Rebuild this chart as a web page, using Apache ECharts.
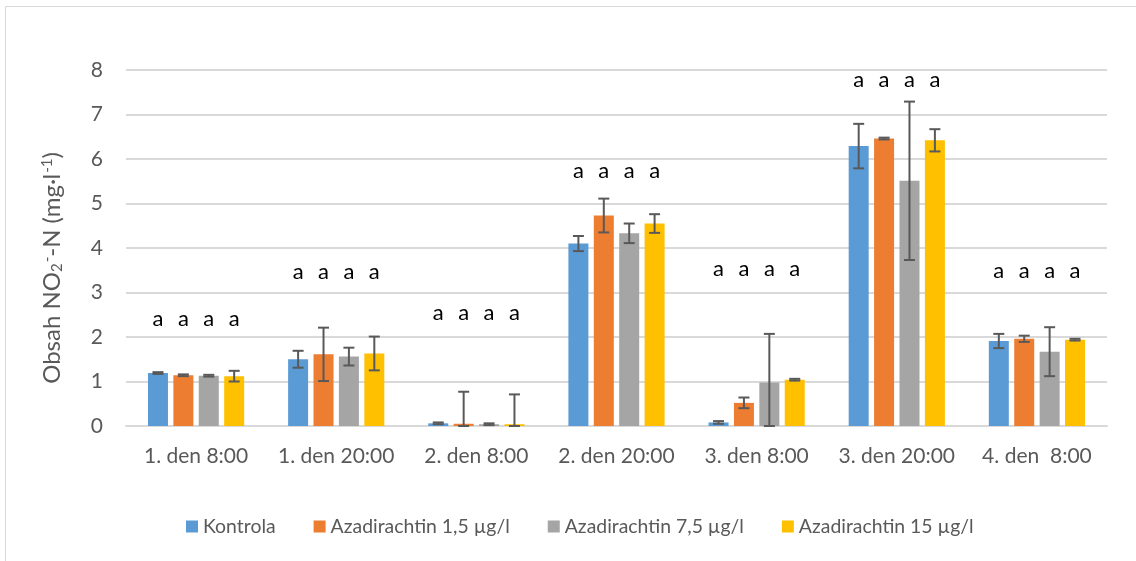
<!DOCTYPE html>
<html>
<head>
<meta charset="utf-8">
<script src="https://cdn.jsdelivr.net/npm/echarts@6/dist/echarts.min.js"></script>
<style>
  html, body { margin: 0; padding: 0; background: #ffffff; }
  #chart { width: 1136px; height: 561px; }
</style>
</head>
<body>
<div id="chart"></div>
<script>
// Sampling times
const categories = ['1. den 8:00', '1. den 20:00', '2. den 8:00', '2. den 20:00', '3. den 8:00', '3. den 20:00', '4. den  8:00'];

// Series names
const seriesNames = ['Kontrola', 'Azadirachtin 1,5 µg/l', 'Azadirachtin 7,5 µg/l', 'Azadirachtin 15 µg/l'];

// Mean NO2-N content (mg/l)
const kontrola   = [1.19, 1.50, 0.06, 4.10, 0.08, 6.29, 1.91];
const aza15      = [1.14, 1.61, 0.05, 4.73, 0.52, 6.46, 1.96];
const aza75      = [1.13, 1.56, 0.04, 4.33, 0.98, 5.51, 1.67];
const aza150     = [1.12, 1.63, 0.04, 4.55, 1.04, 6.42, 1.94];

// Standard deviations (error bars)
const kontrolaSd = [0.02, 0.19, 0.02, 0.17, 0.03, 0.50, 0.16];
const aza15Sd    = [0.02, 0.60, 0.72, 0.38, 0.12, 0.02, 0.07];
const aza75Sd    = [0.02, 0.20, 0.02, 0.22, 1.09, 1.78, 0.55];
const aza150Sd   = [0.12, 0.38, 0.67, 0.21, 0.02, 0.25, 0.02];

// Significance letters and the height at which they are written
const letters = ['a', 'a', 'a', 'a'];
const letterLevel = [2.40, 3.47, 2.55, 5.74, 3.53, 7.78, 3.49];

// Y axis ticks
const yTicks = [0, 1, 2, 3, 4, 5, 6, 7, 8];

const means = [kontrola, aza15, aza75, aza150];
const sds = [kontrolaSd, aza15Sd, aza75Sd, aza150Sd];
const colors = ['#5B9BD5', '#ED7D31', '#A5A5A5', '#FFC000'];

const FONT = 'Lato';
const BAR_W = 20;
const BAR_STEP = 25.4;

function offsetOf(i) { return (i - 1.5) * BAR_STEP; }

const barSeries = seriesNames.map((name, i) => ({
  name: name,
  type: 'bar',
  data: means[i],
  barWidth: BAR_W,
  barGap: '27%',
  itemStyle: { color: colors[i] },
  z: 2
}));

// Error bars drawn on top of the bars
const errorSeries = seriesNames.map((name, i) => ({
  type: 'custom',
  name: name + ' sd',
  data: means[i].map((m, k) => [k, Math.max(m - sds[i][k], 0), m + sds[i][k]]),
  z: 5,
  silent: true,
  renderItem: function (params, api) {
    const k = api.value(0);
    const lo = api.coord([k, api.value(1)]);
    const hi = api.coord([k, api.value(2)]);
    const x = lo[0] + offsetOf(i);
    const cap = 5.5;
    const st = { stroke: '#595959', lineWidth: 2 };
    return {
      type: 'group',
      children: [
        { type: 'line', shape: { x1: x, y1: hi[1], x2: x, y2: lo[1] }, style: st },
        { type: 'line', shape: { x1: x - cap, y1: hi[1], x2: x + cap, y2: hi[1] }, style: st },
        { type: 'line', shape: { x1: x - cap, y1: lo[1], x2: x + cap, y2: lo[1] }, style: st }
      ]
    };
  }
}));

// Letters above each group
const letterSeries = {
  type: 'custom',
  name: 'letters',
  data: letterLevel.map((v, k) => [k, v]),
  z: 6,
  silent: true,
  renderItem: function (params, api) {
    const p = api.coord([api.value(0), api.value(1)]);
    return {
      type: 'group',
      children: letters.map((t, i) => ({
        type: 'text',
        style: {
          text: t, x: p[0] + offsetOf(i), y: p[1],
          align: 'center', verticalAlign: 'middle',
          font: '22px ' + FONT, fill: '#000000'
        }
      }))
    };
  }
};

const chart = echarts.init(document.getElementById('chart'), null, { renderer: 'canvas' });
chart.setOption({
  backgroundColor: '#ffffff',
  animation: false,
  color: colors,
  textStyle: { fontFamily: FONT },
  grid: { left: 126, right: 29, top: 70, bottom: 135, containLabel: false },
  legend: {
    data: seriesNames,
    left: 186,
    top: 517,
    padding: 0,
    icon: 'rect',
    itemWidth: 12,
    itemHeight: 12,
    itemGap: 38,
    textStyle: { fontFamily: FONT, fontSize: 19.4, color: '#595959' }
  },
  xAxis: {
    type: 'category',
    data: categories,
    axisLine: { lineStyle: { color: '#d9d9d9', width: 2 } },
    axisTick: { show: false },
    axisLabel: { fontFamily: FONT, fontSize: 21, color: '#595959', margin: 20, interval: 0 }
  },
  yAxis: {
    type: 'value',
    min: yTicks[0],
    max: yTicks[yTicks.length - 1],
    interval: 1,
    axisLine: { show: false },
    axisTick: { show: false },
    axisLabel: { fontFamily: FONT, fontSize: 21, color: '#595959', margin: 23 },
    splitLine: { lineStyle: { color: '#d9d9d9', width: 2 } }
  },
  graphic: [
    {
      type: 'rect',
      shape: { x: 5.5, y: 6.5, width: 1300, height: 700 },
      style: { fill: 'none', stroke: '#d9d9d9', lineWidth: 1 },
      silent: true
    },
    {
      type: 'text',
      x: 52,
      y: 268,
      rotation: Math.PI / 2,
      style: {
        text: '{n|Obsah NO}{sub|2}{sup|-}{n|-N (mg·l}{sup|-1}{n|)}',
        align: 'center',
        verticalAlign: 'middle',
        fill: '#595959',
        rich: {
          n: { fontFamily: FONT, fontSize: 24, fill: '#595959', lineHeight: 32, verticalAlign: 'middle' },
          sub: { fontFamily: FONT, fontSize: 15, fill: '#595959', lineHeight: 32, verticalAlign: 'bottom', padding: [0, 0, 3, 0] },
          sup: { fontFamily: FONT, fontSize: 15, fill: '#595959', lineHeight: 32, verticalAlign: 'top', padding: [4, 0, 0, 1] }
        }
      }
    }
  ],
  series: barSeries.concat(errorSeries, [letterSeries])
});
</script>
</body>
</html>
